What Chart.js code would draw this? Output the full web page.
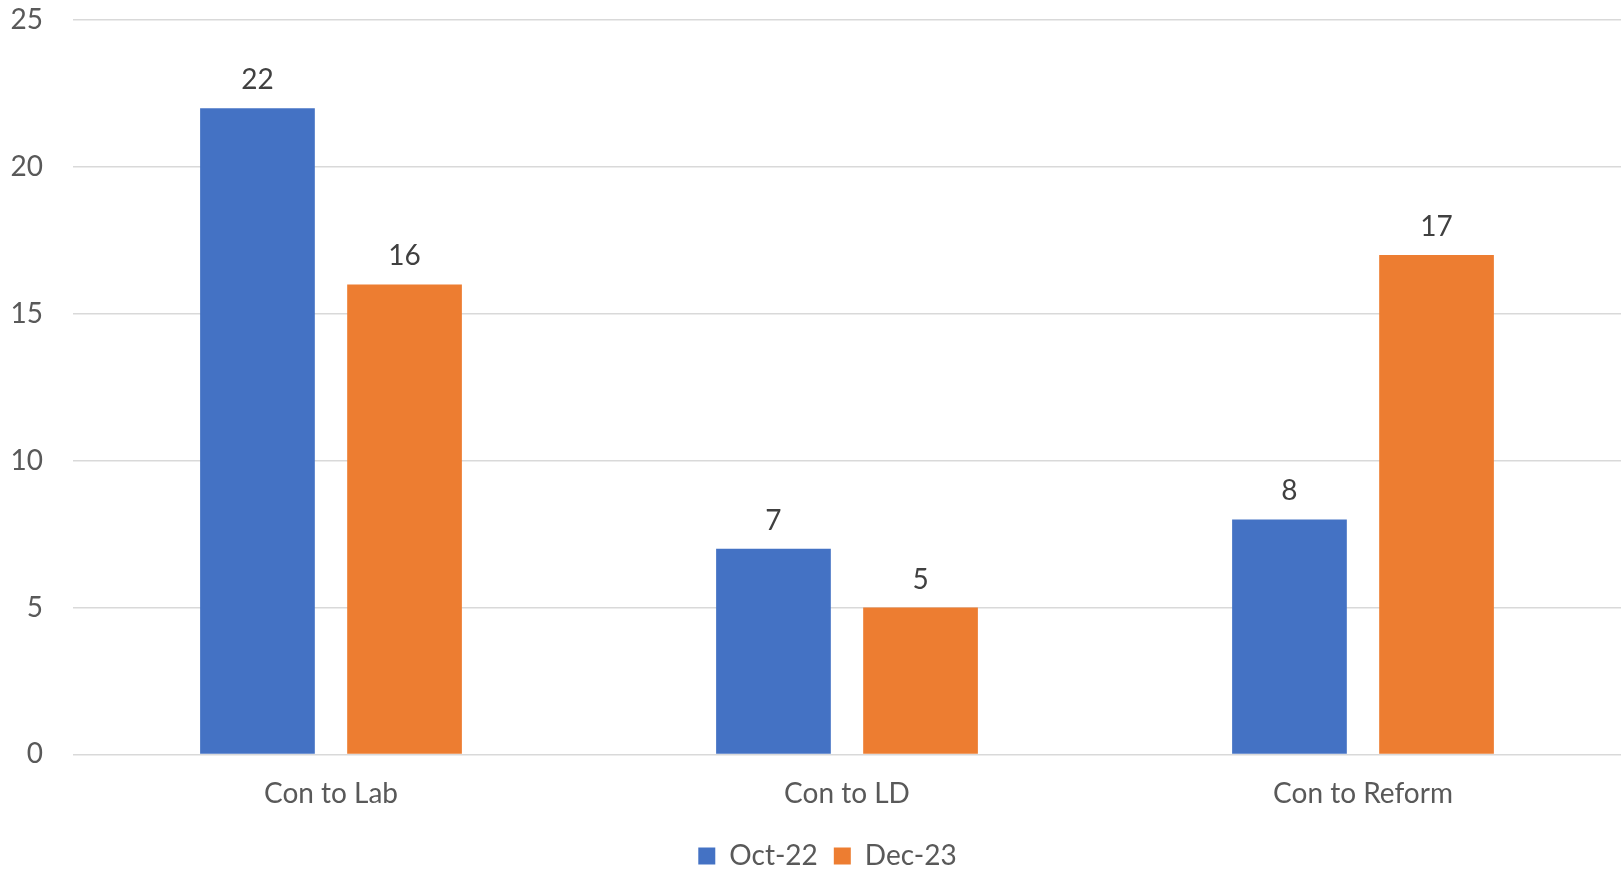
<!DOCTYPE html>
<html>
<head>
<meta charset="utf-8">
<script src="https://cdn.jsdelivr.net/npm/chart.js@4"></script>
<style>
  html, body { margin: 0; padding: 0; background: #fff; }
  #wrap { width: 1621px; height: 872px; }
</style>
</head>
<body>
<div id="wrap"><canvas id="swingChart"></canvas></div>
<script>
const categories = ['Con to Lab', 'Con to LD', 'Con to Reform'];
const seriesNames = ['Oct-22', 'Dec-23'];
const oct22 = [22, 7, 8];
const dec23 = [16, 5, 17];
const yTicks = [0, 5, 10, 15, 20, 25];

const seriesColors = ['#4472C4', '#ED7D31'];
const fontFamily = 'Lato, "Open Sans", sans-serif';
const fontSize = 28;

// draws the number above each bar
const barLabels = {
  id: 'barLabels',
  afterDatasetsDraw(chart) {
    const ctx = chart.ctx;
    ctx.save();
    ctx.font = fontSize + 'px ' + fontFamily;
    ctx.fillStyle = '#404040';
    ctx.textAlign = 'center';
    ctx.textBaseline = 'bottom';
    chart.data.datasets.forEach((ds, i) => {
      chart.getDatasetMeta(i).data.forEach((bar, j) => {
        ctx.fillText(ds.data[j], bar.x, bar.y - 14);
      });
    });
    ctx.restore();
  }
};

// the original legend sits a little right of the page centre
const legendNudge = {
  id: 'legendNudge',
  afterLayout(chart) {
    chart.legend.left += 17;
    chart.legend.right += 17;
  }
};

const ctx = document.getElementById('swingChart').getContext('2d');
const swingChart = new Chart(ctx, {
  type: 'bar',
  data: {
    labels: categories,
    datasets: [
      { label: seriesNames[0], data: oct22, backgroundColor: seriesColors[0] },
      { label: seriesNames[1], data: dec23, backgroundColor: seriesColors[1] }
    ]
  },
  options: {
    responsive: true,
    maintainAspectRatio: false,
    animation: false,
    categoryPercentage: 0.57,
    barPercentage: 0.78,
    layout: { padding: { top: 20, right: 0, left: 0, bottom: -8 } },
    plugins: {
      tooltip: { enabled: false },
      legend: {
        position: 'bottom',
        labels: {
          font: { family: fontFamily, size: fontSize },
          color: '#595959',
          boxWidth: 17,
          boxHeight: 17,
          padding: 16
        }
      }
    },
    scales: {
      x: {
        grid: { display: false },
        border: { display: false },
        ticks: {
          font: { family: fontFamily, size: fontSize },
          color: '#595959',
          padding: 15
        }
      },
      y: {
        min: 0,
        max: 25,
        afterBuildTicks(scale) {
          scale.ticks = yTicks.map(v => ({ value: v }));
        },
        afterFit(scale) {
          scale.width = 73;
          scale.paddingTop = 0;
          scale.paddingBottom = 0;
        },
        grid: { color: '#d9d9d9', lineWidth: 1.5, drawTicks: false },
        border: { display: false },
        ticks: {
          font: { family: fontFamily, size: fontSize },
          color: '#595959',
          padding: 30
        }
      }
    }
  },
  plugins: [barLabels, legendNudge]
});
</script>
</body>
</html>
